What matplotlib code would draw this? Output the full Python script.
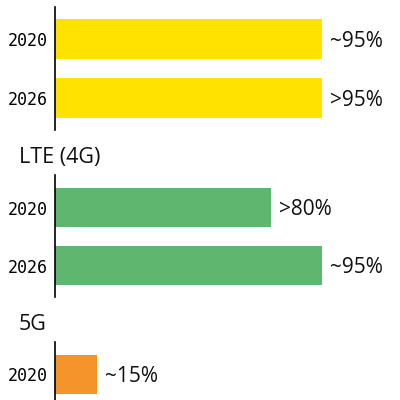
import matplotlib
matplotlib.use("Agg")
import matplotlib.pyplot as plt

groups = ["", "LTE (4G)", "5G"]
years = [["2020", "2026"], ["2020", "2026"], ["2020"]]
values = [[95, 95], [77, 95], [15]]
labels = [["~95%", ">95%"], [">80%", "~95%"], ["~15%"]]
colors = ["#FFE200", "#5EB66F", "#F4942A"]

W = H = 400
fig = plt.figure(figsize=(4, 4), dpi=100)

# axes boxes in pixels (top, bottom) and ylim
boxes = [(7, 130, (1.54, -0.54)), (175, 297, (1.54, -0.56)), (342, 400, (0.44, -0.56))]
label_y = [None, 157, 325]
x0, x1 = 55, 336

for i, (top, bot, yl) in enumerate(boxes):
    ax = fig.add_axes([x0 / W, 1 - bot / H, (x1 - x0) / W, (bot - top) / H])
    ys = list(range(len(values[i])))
    ax.barh(ys, values[i], height=0.67, color=colors[i])
    ax.set_xlim(0, 100)
    ax.set_ylim(*yl)
    ax.set_yticks(ys)
    ax.set_yticklabels(years[i], family="DejaVu Sans Mono", fontsize=12)
    ax.tick_params(axis="y", length=0, pad=5)
    ax.set_xticks([])
    for s in ["top", "right", "bottom"]:
        ax.spines[s].set_visible(False)
    ax.spines["left"].set_linewidth(1.2)
    ax.spines["left"].set_color("black")
    ax.patch.set_alpha(0)
    for y, v, t in zip(ys, values[i], labels[i]):
        ax.annotate(t, (v, y), xytext=(5.5, -1.5), textcoords="offset points",
                    va="center", ha="left", fontsize=15, family="Open Sans",
                    color="#111111", annotation_clip=False)
    if label_y[i] is not None:
        fig.text(19 / W, 1 - label_y[i] / H, groups[i], fontsize=15.5,
                 family="Open Sans", va="center", ha="left", color="#111111")

fig.savefig("out.png", dpi=100)
